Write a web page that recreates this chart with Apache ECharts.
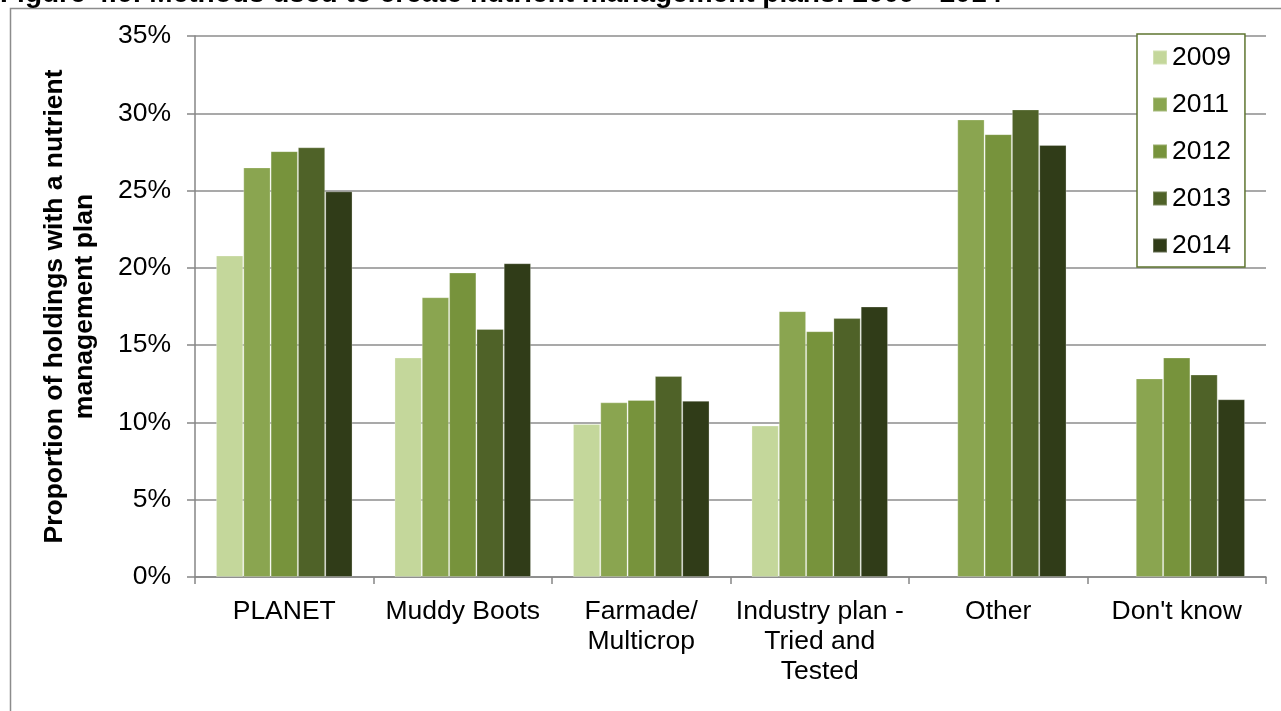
<!DOCTYPE html>
<html>
<head>
<meta charset="utf-8">
<script src="https://cdn.jsdelivr.net/npm/echarts@6/dist/echarts.min.js"></script>
<style>
html,body{margin:0;padding:0;background:#fff;}
#chart{width:1281px;height:711px;}
</style>
</head>
<body>
<div id="chart"></div>
<script>
const titleText = 'Figure 4.6: Methods used to create nutrient management plans: 2009 - 2014';
const categories = ['PLANET', 'Muddy Boots', 'Farmade/\nMulticrop', 'Industry plan -\nTried and\nTested', 'Other', "Don't know"];
const years = ['2009', '2011', '2012', '2013', '2014'];
const v2009 = [20.8, 14.2, 9.9, 9.8, null, null];
const v2011 = [26.5, 18.1, 11.3, 17.2, 29.6, 12.85];
const v2012 = [27.55, 19.7, 11.45, 15.9, 28.65, 14.2];
const v2013 = [27.8, 16.05, 13.0, 16.75, 30.25, 13.1];
const v2014 = [24.95, 20.3, 11.4, 17.5, 27.95, 11.5];
const yTicks = [0, 5, 10, 15, 20, 25, 30, 35];

const colors = ['#c4d79b', '#8aa550', '#77933c', '#4f6228', '#303c18'];
const seriesValues = [v2009, v2011, v2012, v2013, v2014];
const FONT = 'Liberation Sans, Arial, sans-serif';

const chart = echarts.init(document.getElementById('chart'), null, {renderer: 'canvas'});
chart.setOption({
  animation: false,
  backgroundColor: '#ffffff',
  title: {
    text: titleText,
    left: 0,
    top: -20,
    padding: 0,
    textStyle: {fontFamily: FONT, fontSize: 28, fontWeight: 'bold', color: '#000'}
  },
  graphic: [{
    type: 'rect',
    shape: {x: 10.5, y: 8.5, width: 1400, height: 900},
    style: {fill: 'none', stroke: '#8c8c8c', lineWidth: 1.5},
    silent: true,
    z: -1
  }],
  grid: {left: 195, right: 15, top: 36, bottom: 134, containLabel: false},
  legend: {
    orient: 'vertical',
    left: 1137,
    top: 34,
    padding: [10, 14, 8, 15],
    itemGap: 20,
    itemWidth: 14,
    itemHeight: 14,
    icon: 'rect',
    borderColor: '#5f7530',
    borderWidth: 1.5,
    backgroundColor: '#fff',
    data: years,
    textStyle: {fontFamily: FONT, fontSize: 26.5, color: '#000', padding: [0, 0, 0, 0]}
  },
  xAxis: {
    type: 'category',
    data: categories,
    axisLine: {lineStyle: {color: '#868686', width: 1.5}},
    axisTick: {show: true, length: 7, lineStyle: {color: '#868686', width: 1.5}},
    axisLabel: {
      interval: 0,
      margin: 20,
      fontFamily: FONT,
      fontSize: 26.5,
      color: '#000',
      lineHeight: 30
    }
  },
  yAxis: {
    type: 'value',
    min: 0,
    max: 35,
    interval: 5,
    name: 'Proportion of holdings with a nutrient\nmanagement plan',
    nameLocation: 'middle',
    nameGap: 95,
    nameTextStyle: {fontFamily: FONT, fontSize: 26.5, fontWeight: 'bold', color: '#000', lineHeight: 30},
    axisLine: {show: true, lineStyle: {color: '#868686', width: 1.5}},
    axisTick: {show: true, length: 8, lineStyle: {color: '#868686', width: 1.5}},
    axisLabel: {
      margin: 24,
      fontFamily: FONT,
      fontSize: 26.5,
      color: '#000',
      formatter: function (v) { return yTicks.indexOf(v) >= 0 ? v + '%' : ''; }
    },
    splitLine: {show: true, lineStyle: {color: '#8c8c8c', width: 1.5}}
  },
  series: years.map(function (y, i) {
    return {
      name: y,
      type: 'bar',
      data: seriesValues[i],
      barGap: '0%',
      barCategoryGap: '23.5%',
      itemStyle: {color: colors[i], borderColor: 'rgba(255,255,255,0.25)', borderWidth: 1}
    };
  })
});
</script>
</body>
</html>
